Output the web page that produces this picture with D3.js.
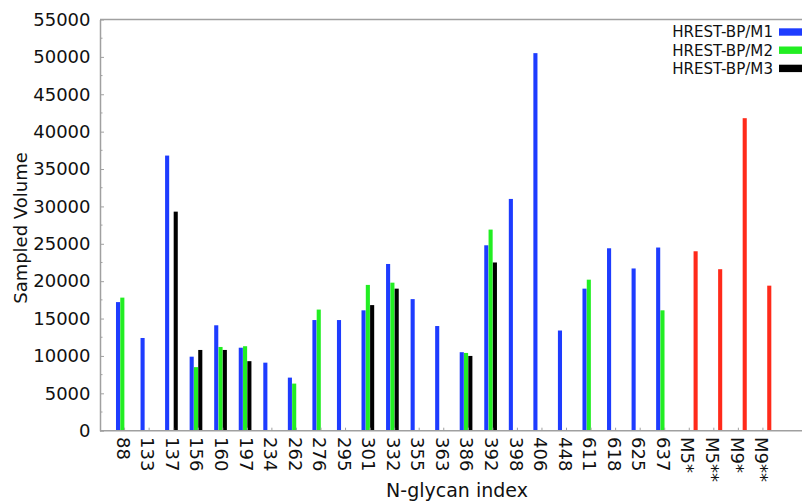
<!DOCTYPE html>
<html>
<head>
<meta charset="utf-8">
<script src="https://cdn.jsdelivr.net/npm/d3@7"></script>
<style>
  html, body { margin: 0; padding: 0; background: #fff; }
  svg { display: block; }
  text { font-family: "DejaVu Sans", sans-serif; fill: #111; }
</style>
</head>
<body>
<svg id="chart" width="802" height="502"></svg>
<script>
const categories = ["88","133","137","156","160","197","234","262","276","295","301","332","355","363","386","392","398","406","448","611","618","625","637","M5*","M5**","M9*","M9**"];
const seriesNames = ["HREST-BP/M1","HREST-BP/M2","HREST-BP/M3","Reference"];
const m1 = [17200,12400,36800,9900,14100,11100,9100,7100,14800,14800,16100,22300,17600,14000,10500,24800,31000,50500,13400,19000,24400,21700,24500,null,null,null,null];
const m2 = [17800,null,null,8500,11200,11300,null,6300,16200,null,19500,19800,null,null,10400,26900,null,null,null,20200,null,null,16100,null,null,null,null];
const m3 = [null,null,29300,10800,10800,9300,null,null,null,null,16800,19000,null,null,10000,22500,null,null,null,null,null,null,null,null,null,null,null];
const ref = [null,null,null,null,null,null,null,null,null,null,null,null,null,null,null,null,null,null,null,null,null,null,null,24000,21600,41800,19400];
const yTicks = [0,5000,10000,15000,20000,25000,30000,35000,40000,45000,50000,55000];
const colors = ["#1e3cff","#22ee22","#000000","#ff2a1a"];

const seriesValues = [m1, m2, m3, ref];
const rows = [];
categories.forEach((c, i) => {
  seriesValues.forEach((arr, s) => {
    if (arr[i] != null) rows.push({cat: c, s: seriesNames[s], si: s, v: arr[i]});
  });
});

const svg = d3.select("#chart");
const pLeft = 100, pTop = 19.5, pBottom = 430.7, pRight = 802;

const x = d3.scaleBand().domain(categories).range([112.3, 775.2]).paddingInner(0.3).paddingOuter(0.15);
const xs = d3.scaleBand().domain(seriesNames).range([0, x.bandwidth()]).padding(0);
const y = d3.scaleLinear().domain([0, 55000]).range([pBottom, pTop]);

const axisColor = "#a0a0a0";

// frame top line
svg.append("line").attr("x1", pLeft).attr("x2", pRight).attr("y1", pTop).attr("y2", pTop)
  .attr("stroke", axisColor).attr("stroke-width", 1.5);

// minor y ticks
const minor = d3.range(2500, 55000, 5000);
svg.append("g").selectAll("line").data(minor).join("line")
  .attr("x1", pLeft).attr("x2", pLeft + 2.5)
  .attr("y1", d => y(d)).attr("y2", d => y(d))
  .attr("stroke", axisColor).attr("stroke-width", 1);

// y axis
const yAxis = d3.axisLeft(y).tickValues(yTicks).tickFormat(d3.format("d"))
  .tickSizeInner(-4).tickSizeOuter(0).tickPadding(9.5);
const gy = svg.append("g").attr("transform", `translate(${pLeft},0)`).call(yAxis);
gy.select(".domain").attr("stroke", axisColor).attr("stroke-width", 1.5);
gy.selectAll(".tick line").attr("stroke", axisColor);
gy.selectAll(".tick text").attr("font-size", 18).attr("font-family", "DejaVu Sans").attr("fill", "#111");

// bars
svg.append("g").selectAll("rect").data(rows).join("rect")
  .attr("x", d => x(d.cat) + xs(d.s))
  .attr("width", xs.bandwidth() - 0.2)
  .attr("y", d => y(d.v))
  .attr("height", d => y(0) - y(d.v))
  .attr("fill", d => colors[d.si]);

// x axis
svg.append("line").attr("x1", pLeft).attr("x2", pRight).attr("y1", pBottom).attr("y2", pBottom)
  .attr("stroke", axisColor).attr("stroke-width", 1.5);
svg.append("g").selectAll("line").data(categories).join("line")
  .attr("x1", d => x(d) + x.bandwidth() / 2).attr("x2", d => x(d) + x.bandwidth() / 2)
  .attr("y1", pBottom).attr("y2", pBottom - 3)
  .attr("stroke", axisColor).attr("stroke-width", 1);
svg.append("g").selectAll("text").data(categories).join("text")
  .attr("transform", d => `translate(${x(d) + x.bandwidth() / 2 - 1.5},437) rotate(90)`)
  .attr("dy", "0.35em")
  .attr("text-anchor", "start")
  .attr("font-size", 18)
  .text(d => d);

// axis titles
svg.append("text")
  .attr("transform", `translate(27,228) rotate(-90)`)
  .attr("text-anchor", "middle")
  .attr("font-size", 18)
  .text("Sampled Volume");
svg.append("text")
  .attr("x", 457).attr("y", 497)
  .attr("text-anchor", "middle")
  .attr("font-size", 19)
  .text("N-glycan index");

// legend
const legendItems = seriesNames.slice(0, 3);
const lg = svg.append("g");
legendItems.forEach((name, i) => {
  const cy = 32 + i * 18.2;
  lg.append("text").attr("x", 773).attr("y", cy).attr("dy", "0.36em")
    .attr("text-anchor", "end").attr("font-size", 15.1).text(name);
  lg.append("rect").attr("x", 779).attr("y", cy - 3.7).attr("width", 26).attr("height", 7.4)
    .attr("fill", colors[i]);
});
</script>
</body>
</html>
